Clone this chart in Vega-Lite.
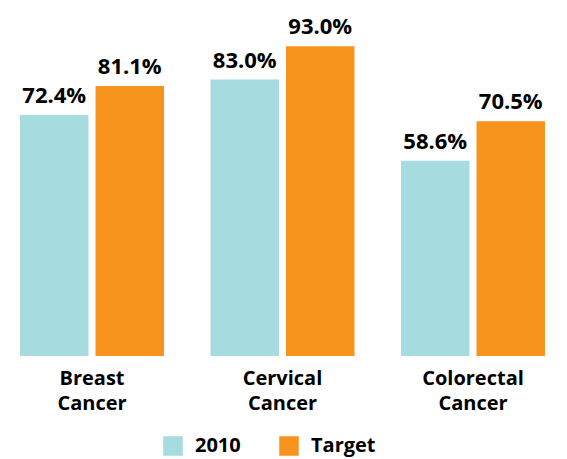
{
  "$schema": "https://vega.github.io/schema/vega-lite/v6.json",
  "width": 525,
  "height": 333,
  "autosize": {"type": "none"},
  "padding": {"left": 20, "top": 23, "right": 22, "bottom": 103},
  "background": "white",
  "config": {
    "view": {"stroke": null},
    "font": "Open Sans"
  },
  "data": {
    "values": [
      {"category": "Breast Cancer", "series": "2010", "value": 72.4, "label": "72.4%"},
      {"category": "Breast Cancer", "series": "Target", "value": 81.1, "label": "81.1%"},
      {"category": "Cervical Cancer", "series": "2010", "value": 83.0, "label": "83.0%"},
      {"category": "Cervical Cancer", "series": "Target", "value": 93.0, "label": "93.0%"},
      {"category": "Colorectal Cancer", "series": "2010", "value": 58.6, "label": "58.6%"},
      {"category": "Colorectal Cancer", "series": "Target", "value": 70.5, "label": "70.5%"}
    ]
  },
  "encoding": {
    "x": {
      "field": "category",
      "type": "nominal",
      "sort": null,
      "scale": {"paddingInner": 0.244, "paddingOuter": 0},
      "axis": {
        "title": null,
        "domain": false,
        "ticks": false,
        "labelAngle": 0,
        "labelFont": "Open Sans",
        "labelFontSize": 20,
        "labelFontWeight": "bold",
        "labelColor": "#000000",
        "labelPadding": 12,
        "labelLineHeight": 25,
        "labelBaseline": "top",
        "labelExpr": "split(datum.label, ' ')"
      }
    },
    "xOffset": {
      "field": "series",
      "type": "nominal",
      "scale": {"paddingInner": 0.093, "paddingOuter": 0}
    },
    "y": {
      "field": "value",
      "type": "quantitative",
      "scale": {"domain": [0, 100], "nice": false},
      "axis": null
    }
  },
  "layer": [
    {
      "mark": {"type": "bar"},
      "encoding": {
        "color": {
          "field": "series",
          "type": "nominal",
          "scale": {"domain": ["2010", "Target"], "range": ["#a6dbe0", "#f7941e"]},
          "legend": {
            "title": null,
            "orient": "none",
            "direction": "horizontal",
            "legendX": 143,
            "legendY": 413,
            "symbolType": "square",
            "symbolSize": 380,
            "symbolStrokeWidth": 0,
            "symbolOpacity": 1,
            "labelFont": "Open Sans",
            "labelFontSize": 20,
            "labelFontWeight": "bold",
            "labelColor": "#000000",
            "labelOffset": 12,
            "columnPadding": 38
          }
        }
      }
    },
    {
      "mark": {
        "type": "text",
        "baseline": "alphabetic",
        "dy": -12,
        "font": "Open Sans",
        "fontSize": 22,
        "fontWeight": "bold",
        "color": "#000000"
      },
      "encoding": {
        "text": {"field": "label"}
      }
    }
  ]
}
